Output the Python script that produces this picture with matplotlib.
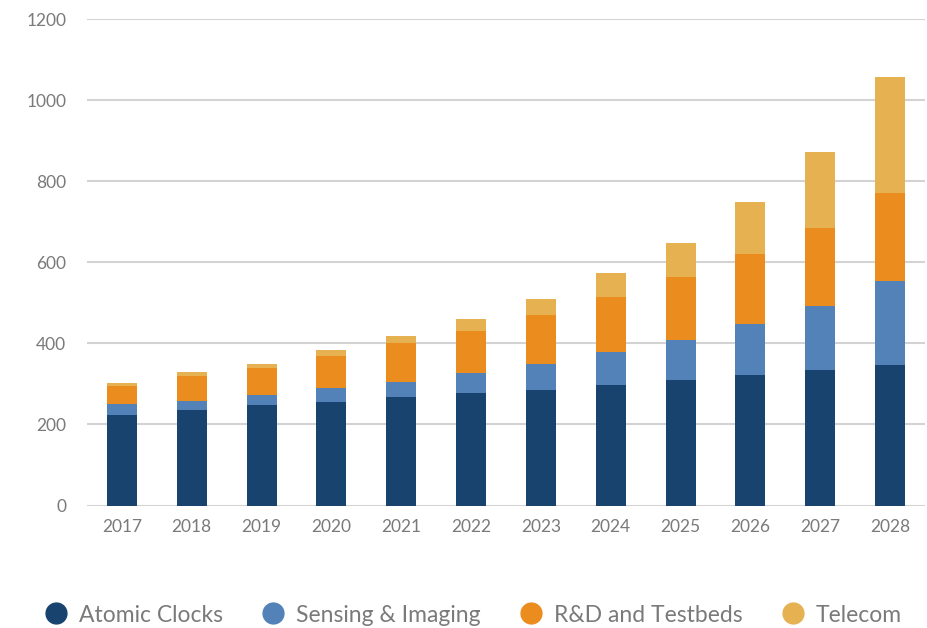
import matplotlib
matplotlib.use("Agg")
import matplotlib.pyplot as plt
from matplotlib.lines import Line2D
import numpy as np

years = ["2017", "2018", "2019", "2020", "2021", "2022", "2023", "2024", "2025", "2026", "2027", "2028"]
atomic_clocks = [223, 236, 248, 256, 268, 278, 285, 298, 310, 322, 335, 347]
sensing_imaging = [28, 22, 24, 34, 37, 49, 64, 81, 99, 126, 158, 207]
rnd_testbeds = [44, 62, 68, 79, 96, 104, 121, 136, 156, 173, 192, 218]
telecom = [7, 10, 10, 15, 18, 30, 40, 59, 84, 128, 188, 286]

series_names = ["Atomic Clocks", "Sensing & Imaging", "R&D and Testbeds", "Telecom"]
colors = ["#17436E", "#5282B8", "#EB8C1E", "#E5B151"]

plt.rcParams['font.family'] = ['Lato', 'DejaVu Sans']

fig = plt.figure(figsize=(9.28, 6.28), dpi=100)
ax = fig.add_axes([87/928, (628-505.5)/628, (925-87)/928, (505.5-19.3)/628])

x = np.arange(len(years))
bottom = np.zeros(len(years))
for vals, col, name in zip([atomic_clocks, sensing_imaging, rnd_testbeds, telecom], colors, series_names):
    ax.bar(x, vals, width=0.43, bottom=bottom, color=col, label=name, zorder=3)
    bottom += np.array(vals)

ax.set_ylim(0, 1200)
ax.set_xlim(-0.5, len(years) - 0.5)
ax.set_yticks(range(0, 1201, 200))
ax.set_xticks(x)
ax.set_xticklabels(years)
ax.yaxis.grid(True, color="#d3d3d3", linewidth=1.5, zorder=0)
ax.set_axisbelow(True)
for s in ax.spines.values():
    s.set_visible(False)
ax.tick_params(axis='both', length=0, labelsize=12.5, colors="#7a7a7a")
ax.tick_params(axis='y', pad=15)
ax.tick_params(axis='x', pad=10)

handles = [Line2D([0], [0], marker='o', linestyle='None', markersize=15,
                  markerfacecolor=c, markeredgecolor=c) for c in colors]
leg = fig.legend(handles, series_names, loc='center', bbox_to_anchor=(472/928, (628-615)/628),
                 ncol=4, frameon=False, fontsize=16.5, handletextpad=0.4,
                 handlelength=1.2, columnspacing=1.6, labelcolor="#7a7a7a")

fig.savefig("out.png", dpi=100)
